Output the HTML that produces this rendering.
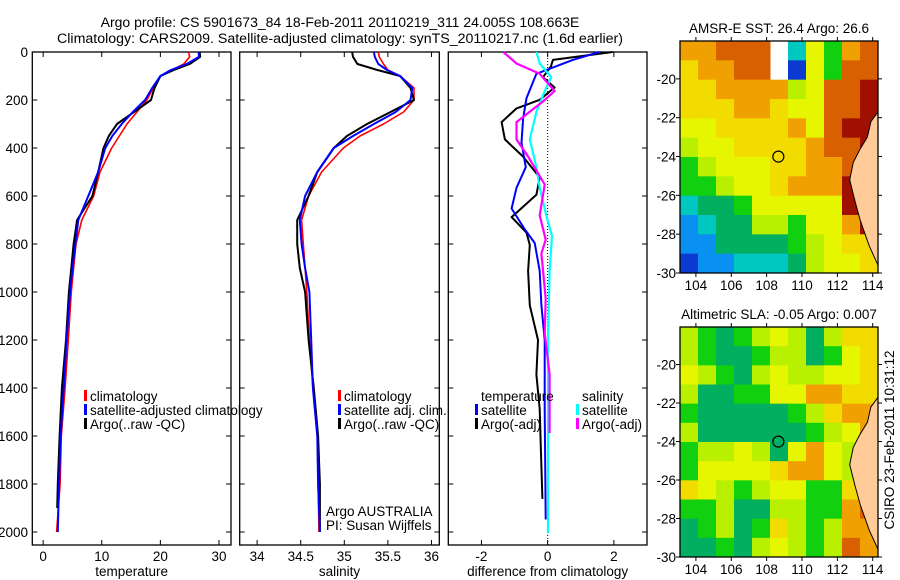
<!DOCTYPE html>
<html><head><meta charset="utf-8"><style>
body{margin:0;background:#fff;}
svg{display:block;font-family:"Liberation Sans",sans-serif;font-size:13.5px;}
</style></head><body>
<svg id="c" width="900" height="580" viewBox="0 0 900 580">
<text x="340" y="27" text-anchor="middle" font-size="14">Argo profile: CS 5901673_84 18-Feb-2011 20110219_311 24.005S 108.663E</text>
<text x="340" y="43" text-anchor="middle" font-size="14.2">Climatology: CARS2009. Satellite-adjusted climatology: synTS_20110217.nc (1.6d earlier)</text>
<text transform="translate(894,440) rotate(-90)" text-anchor="middle">CSIRO 23-Feb-2011 10:31:12</text>
</svg>
<script>
// ---------- data ----------
const depths=[0,20,50,75,100,150,200,250,300,350,400,500,600,700,800,900,1000,1200,1400,1600,1800,2000];
const tempClim=[24.8,25.0,24.0,22.0,20.0,18.8,17.7,16.0,14.3,13.0,11.7,9.7,8.6,6.6,5.6,5.2,4.8,4.3,3.75,3.1,2.9,2.3];
const tempSat=[26.5,26.6,24.5,21.8,20.0,18.6,17.4,15.3,13.4,11.8,10.6,9.4,7.7,6.0,5.5,5.0,4.6,4.0,3.5,3.0,2.7,2.5];
const tempArgo=[26.7,26.8,25.0,22.3,20.0,19.0,18.4,15.5,12.6,11.2,10.3,9.4,8.4,5.8,5.2,4.8,4.4,3.9,3.2,2.8,2.5,2.4];
const salClim=[35.39,35.40,35.45,35.50,35.64,35.80,35.80,35.68,35.45,35.18,34.99,34.74,34.59,34.51,34.53,34.55,34.57,34.60,34.64,34.69,34.70,34.71];
const salSat=[35.34,35.35,35.39,35.49,35.64,35.78,35.76,35.59,35.34,35.10,34.88,34.69,34.55,34.49,34.51,34.55,34.60,34.62,34.64,34.69,34.70,34.72];
const salArgo=[35.09,35.10,35.15,35.38,35.64,35.76,35.80,35.53,35.26,35.03,34.88,34.69,34.59,34.46,34.46,34.49,34.55,34.59,34.65,34.70,34.72,34.72];
const dTempArgoDepth=[0,33,60,105,148,199,235,292,364,436,523,595,688,753,804,912,1056,1200,1344,1488,1632,1862];
const dTempArgo=[1.96,0.16,0.1,-0.14,0.21,-0.24,-0.94,-1.39,-1.29,-0.74,-0.24,-0.34,-1.09,-0.64,-0.54,-0.59,-0.54,-0.29,-0.34,-0.24,-0.21,-0.16];
const dTempSatDepth=[0,33,91,192,278,378,480,566,652,739,796,912,1056,1200,1488,1948];
const dTempSat=[1.56,0.76,-0.34,-0.64,-0.74,-0.79,-0.66,-0.94,-1.09,-0.69,-0.39,-0.24,-0.19,-0.09,-0.09,-0.06];
const dSalSatDepth=[0,48,105,163,249,364,480,566,681,767,912,1200,2006];
const dSalSat=[-0.34,-0.24,0.11,-0.09,-0.34,-0.54,-0.34,-0.24,-0.04,0.13,0.06,0.01,0.01];
const dSalArgoDepth=[0,48,91,163,206,292,364,436,552,681,782,840,1027,1171,1344,1588];
const dSalArgo=[-1.34,-0.94,-0.24,0.21,-0.14,-0.94,-0.94,-0.59,-0.09,-0.24,-0.06,-0.19,-0.06,-0.09,0.06,0.06];
const depthTicks=[0,200,400,600,800,1000,1200,1400,1600,1800,2000];
const tempTicks=[0,10,20,30];
const salTicks=[34,34.5,35,35.5,36];
const diffTicks=[-2,0,2];
const lonTicks=[104,106,108,110,112,114];
const latTicks=[-20,-22,-24,-26,-28,-30];
// map grids: rows from -18 (top) to -30, cols from 103.1 to 114.3; -1 = missing
const sstGrid=[
[8,8,9,9,9,-1,2,6,4,8,9],
[7,8,8,9,9,-1,0,6,4,9,9],
[7,7,8,8,8,8,5,6,9,9,10],
[7,7,7,8,8,7,6,6,9,9,10],
[6,6,7,7,7,7,8,6,9,10,10],
[5,6,6,7,7,7,7,8,9,9,10],
[4,5,6,6,6,7,7,8,8,9,10],
[4,4,5,6,6,7,8,8,8,10,10],
[2,3,3,4,6,6,6,6,6,10,10],
[1,2,3,3,5,5,4,6,6,8,10],
[1,1,3,3,3,3,4,5,6,7,7],
[0,1,1,2,2,2,3,5,6,6,7]];
const slaGrid=[
[5,4,3,4,5,6,5,3,5,7,7],
[5,4,3,3,4,5,5,3,4,6,7],
[6,5,4,3,5,6,5,5,6,6,7],
[5,3,3,4,4,6,6,8,8,7,7],
[4,3,3,3,3,3,4,5,7,8,8],
[5,3,3,3,3,3,3,4,5,6,8],
[4,5,5,6,5,3,6,8,6,5,8],
[4,6,6,6,6,7,8,8,6,5,9],
[7,6,5,4,5,6,6,4,4,7,9],
[4,4,5,3,3,5,5,4,4,8,9],
[3,4,5,3,4,7,5,4,5,8,8],
[3,3,4,3,5,6,5,4,5,9,8]];
const floatLon=108.663, floatLat=-24.005;

// ---------- drawing ----------
const svg=document.getElementById('c');
const NS='http://www.w3.org/2000/svg';
function mk(t,a,p){const e=document.createElementNS(NS,t);for(const k in a)e.setAttribute(k,a[k]);(p||svg).appendChild(e);return e;}
const top0=52,bot0=545;
const yD=d=>top0+d*0.24;
function panel(name,x0,x1,xmin,xmax,ticks,fmt,label){
  const sx=v=>x0+(v-xmin)/(xmax-xmin)*(x1-x0);
  const g=mk('g',{});
  
  
  const fr=mk('rect',{x:x0,y:top0,width:x1-x0,height:bot0-top0,fill:'none',stroke:'#000','stroke-width':1.3},g);
  
  
  depthTicks.forEach(d=>{const y=yD(d);
    mk('line',{x1:x0,x2:x0+5,y1:y,y2:y,stroke:'#000'},g);
    mk('line',{x1:x1,x2:x1-5,y1:y,y2:y,stroke:'#000'},g);});
  ticks.forEach(v=>{const x=sx(v);
    mk('line',{x1:x,x2:x,y1:bot0,y2:bot0-5,stroke:'#000'},g);
    mk('line',{x1:x,x2:x,y1:top0,y2:top0+5,stroke:'#000'},g);
    const t=mk('text',{x:x,y:bot0+16,'text-anchor':'middle'},g);t.textContent=fmt(v);
    
    });
  const l=mk('text',{x:(x0+x1)/2,y:bot0+31,'text-anchor':'middle'},g);l.textContent=label;
  
  
  return {sx,g};
}
function line(p,xs,ds,col,w,name){
  const pts=xs.map((v,i)=>p.sx(v).toFixed(1)+','+yD(ds[i]).toFixed(1)).join(' ');
  const e=mk('polyline',{points:pts,fill:'none',stroke:col,'stroke-width':w,'stroke-linejoin':'round'},p.g);
  
  
}
function legend(p,x,y,col,txt,name){
  if(col){mk('rect',{x:x-6,y:y-7,width:3,height:11,fill:col},p.g);}
  const t=mk('text',{x:x,y:y+4},p.g);t.textContent=txt;
  
  
}
depthTicks.forEach(d=>{const t=mk('text',{x:28,y:yD(d)+5,'text-anchor':'end'});t.textContent=d;
  
  });

const p1=panel('temperature-panel',32.3,231,-1.85,32.05,tempTicks,v=>v,'temperature');
line(p1,tempClim,depths,'#f00',1.6,'temp-climatology-line');
line(p1,tempArgo,depths.slice(0,21).concat([1900]),'#000',2,'temp-argo-line');
line(p1,tempSat,depths,'#00f',2,'temp-satellite-line');
legend(p1,90,397,'#f00','climatology','legend-climatology');
legend(p1,90,411,'#00f','satellite-adjusted climatology','legend-satellite-adjusted');
legend(p1,90,425,'#000','Argo(..raw -QC)','legend-argo');

const p2=panel('salinity-panel',239.7,439.3,33.8,36.09,salTicks,v=>v,'salinity');
line(p2,salClim,depths,'#f00',1.6,'sal-climatology-line');
line(p2,salArgo,depths,'#000',2,'sal-argo-line');
line(p2,salSat,depths,'#00f',2,'sal-satellite-line');
legend(p2,344,397,'#f00','climatology','legend-climatology');
legend(p2,344,411,'#00f','satellite adj. clim.','legend-satellite-adj');
legend(p2,344,425,'#000','Argo(..raw -QC)','legend-argo');
legend(p2,326,512,null,'Argo AUSTRALIA','argo-australia-label');
legend(p2,326,526,null,'PI: Susan Wijffels','pi-label');

const p3=panel('difference-panel',448.3,647,-3,3,diffTicks,v=>v,'difference from climatology');
mk('line',{x1:p3.sx(0),x2:p3.sx(0),y1:top0,y2:bot0,stroke:'#000','stroke-dasharray':'1,2'},p3.g);
line(p3,dTempArgo,dTempArgoDepth,'#000',2,'temp-argo-diff-line');
line(p3,dTempSat,dTempSatDepth,'#00f',2,'temp-satellite-diff-line');
line(p3,dSalSat,dSalSatDepth,'#0ff',2.2,'sal-satellite-diff-line');
line(p3,dSalArgo,dSalArgoDepth,'#f0f',2.2,'sal-argo-diff-line');
legend(p3,481,397,null,'temperature','legend-temperature-heading');
legend(p3,481,411,'#00f','satellite','legend-temp-satellite');
legend(p3,481,425,'#000','Argo(-adj)','legend-temp-argo');
legend(p3,582,397,null,'salinity','legend-salinity-heading');
legend(p3,582,411,'#0ff','satellite','legend-sal-satellite');
legend(p3,582,425,'#f0f','Argo(-adj)','legend-sal-argo');

const pal=['#0a3ad0','#0a90f0','#00c8c0','#00b060','#10d010','#b8f000','#e6f500','#f2dc00','#f0a000','#d86000','#a01000','#ffcc99'];
function map(name,y0,y1,grid,title){
  const x0=680,x1=878;
  const lonMin=103.1,lonMax=114.3;
  const latTop=-18.05,latBot=-30;
  const sx=v=>x0+(v-lonMin)/(lonMax-lonMin)*(x1-x0);
  const sy=v=>y0+(latTop-v)/(latTop-latBot)*(y1-y0);
  const g=mk('g',{});
  
  
  const nr=grid.length,nc=grid[0].length;
  const cw=(x1-x0)/nc,ch=(y1-y0)/nr;
  grid.forEach((row,r)=>row.forEach((v,c)=>{
    if(v<0)return;
    const e=mk('rect',{x:x0+c*cw,y:y0+r*ch,width:cw+0.5,height:ch+0.5,fill:pal[v]},g);
    
    
  }));
  const coast=[[114.3,-21.7],[113.9,-22.2],[113.7,-23],[113.3,-23.6],[112.9,-24.3],[112.7,-25.2],[113.0,-26.3],[113.3,-27.3],[113.8,-28.6],[114.3,-29.6]];
  const cp=coast.map(p=>sx(p[0]).toFixed(1)+','+sy(p[1]).toFixed(1)).join(' ');
  const land=mk('polygon',{points:cp,fill:'#ffcc99',stroke:'#000','stroke-width':1},g);
  
  
  const fr=mk('rect',{x:x0,y:y0,width:x1-x0,height:y1-y0,fill:'none',stroke:'#000','stroke-width':1.3},g);
  
  
  const ci=mk('circle',{cx:sx(floatLon),cy:sy(floatLat),r:5.5,fill:'none',stroke:'#000','stroke-width':1.2},g);
  
  
  lonTicks.forEach(v=>{const x=sx(v);
    mk('line',{x1:x,x2:x,y1:y0,y2:y0-4,stroke:'#000'},g);
    mk('line',{x1:x,x2:x,y1:y1,y2:y1+4,stroke:'#000'},g);
    const t=mk('text',{x:x,y:y1+17,'text-anchor':'middle'},g);t.textContent=v;
    
    });
  latTicks.forEach(v=>{const y=sy(v);
    mk('line',{x1:x0,x2:x0-4,y1:y,y2:y,stroke:'#000'},g);
    mk('line',{x1:x1,x2:x1+4,y1:y,y2:y,stroke:'#000'},g);
    const t=mk('text',{x:x0-4,y:y+5,'text-anchor':'end'},g);t.textContent='-'+Math.abs(v);
    
    });
  const t=mk('text',{x:(x0+x1)/2,y:y0-8,'text-anchor':'middle'},g);t.textContent=title;
  
  
}
map('sst-map',41,273,sstGrid,'AMSR-E SST: 26.4 Argo: 26.6');
map('sla-map',327,557,slaGrid,'Altimetric SLA: -0.05 Argo: 0.007');
</script>
</body></html>
